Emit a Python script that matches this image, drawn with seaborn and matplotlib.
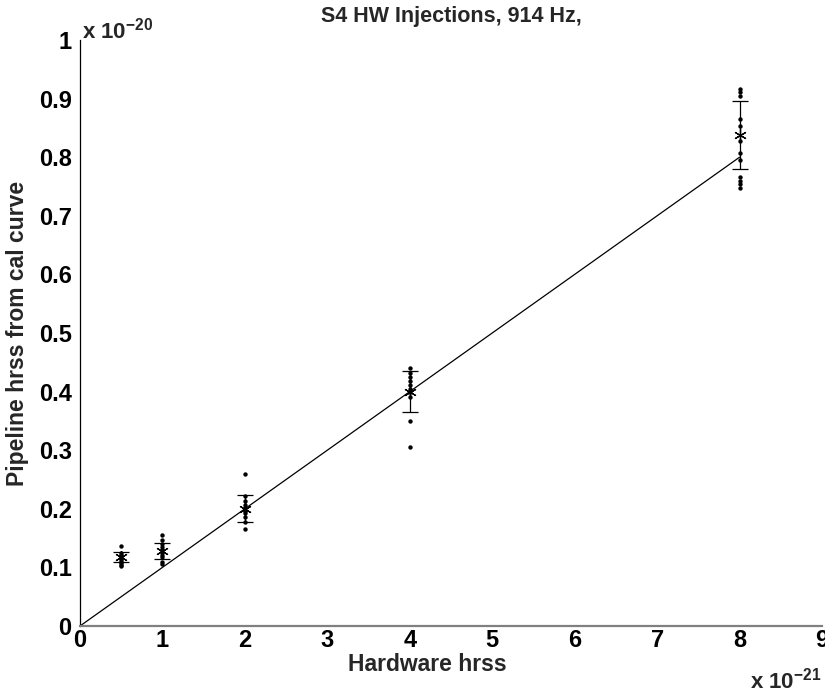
import numpy as np
import pandas as pd
import matplotlib
matplotlib.use('Agg')
import matplotlib.pyplot as plt
import seaborn as sns

# hardware injection amplitudes (units of 1e-21)
hw_levels = [0.5, 1, 2, 4, 8]

# recovered pipeline hrss for each injection (units of 1e-20)
pts_05 = [0.137, 0.125, 0.121, 0.118, 0.116, 0.113, 0.110, 0.107, 0.104, 0.102]
pts_1 = [0.155, 0.146, 0.140, 0.135, 0.130, 0.127, 0.122, 0.117, 0.110, 0.106]
pts_2 = [0.259, 0.222, 0.214, 0.207, 0.202, 0.197, 0.192, 0.186, 0.178, 0.166]
pts_4 = [0.441, 0.432, 0.425, 0.418, 0.412, 0.405, 0.400, 0.391, 0.350, 0.306]
pts_8 = [0.916, 0.911, 0.905, 0.865, 0.853, 0.828, 0.808, 0.795,
         0.767, 0.760, 0.754, 0.748]

# mean and spread shown with the asterisk + error bar
means = [0.118, 0.128, 0.200, 0.400, 0.838]
errs = [0.008, 0.014, 0.023, 0.035, 0.058]

# reference line (x in 1e-21 maps to y in 1e-20)
line_x = [0, 8]
line_y = [0, 0.8]


def build_df():
    rows = []
    for lvl, pts in zip(hw_levels, [pts_05, pts_1, pts_2, pts_4, pts_8]):
        for p in pts:
            rows.append({'hw': lvl, 'pipe': p})
    return pd.DataFrame(rows)


sns.set_style('white')
plt.rcParams['font.family'] = ['Liberation Sans', 'DejaVu Sans']
plt.rcParams['font.weight'] = 'bold'
plt.rcParams['mathtext.fontset'] = 'custom'
plt.rcParams['mathtext.bf'] = 'Liberation Sans:bold'
plt.rcParams['mathtext.rm'] = 'Liberation Sans:bold'

fig = plt.figure(figsize=(8.25, 6.96), dpi=100)
ax = fig.add_axes([80 / 825, 70 / 696, 742 / 825, 586 / 696])

df = build_df()
sns.lineplot(x=line_x, y=line_y, ax=ax, color='black', linewidth=0.9)
sns.scatterplot(data=df, x='hw', y='pipe', ax=ax, marker='o', s=10,
                color='black', linewidth=0)
ax.errorbar(hw_levels, means, yerr=errs, fmt='none', ecolor='black',
            capsize=6, elinewidth=0.9, capthick=0.9)
ax.plot(hw_levels, means, linestyle='none', marker=(6, 2, 0),
        markersize=9, markeredgewidth=0.9, color='black')

ax.set_xlim(0, 9)
ax.set_ylim(0, 1)
ax.set_xticks(range(0, 10))
ax.set_yticks(np.arange(0, 1.01, 0.1))
ax.set_yticklabels(['0', '0.1', '0.2', '0.3', '0.4', '0.5', '0.6', '0.7',
                    '0.8', '0.9', '1'])
ax.tick_params(direction='in', length=5, labelsize=17, width=0.8,
               colors='black')
ax.tick_params(axis='x', pad=2)
ax.tick_params(axis='y', pad=6)
for lab in ax.get_xticklabels() + ax.get_yticklabels():
    lab.set_fontweight('bold')

sns.despine(ax=ax)
ax.spines['left'].set_color('black')
ax.spines['left'].set_linewidth(0.9)
ax.spines['bottom'].set_color('#808080')
ax.spines['bottom'].set_linewidth(1.6)

ax.set_xlabel('Hardware hrss', fontsize=16.5, fontweight='bold')
ax.xaxis.set_label_coords(0.468, -0.046)
ax.set_ylabel('Pipeline hrss from cal curve', fontsize=16.5,
              fontweight='bold')
ax.yaxis.set_label_coords(-0.069, 0.5)
ax.set_title('S4 HW Injections, 914 Hz,', fontsize=15.5, fontweight='bold',
             pad=13)

fig.text(82 / 825, 1 - 38 / 696, r'x 10$^{\mathbf{-20}}$', fontsize=16,
         fontweight='bold')
fig.text(750 / 825, 1 - 688 / 696, r'x 10$^{\mathbf{-21}}$', fontsize=16,
         fontweight='bold')

fig.savefig('out.png', dpi=100)
